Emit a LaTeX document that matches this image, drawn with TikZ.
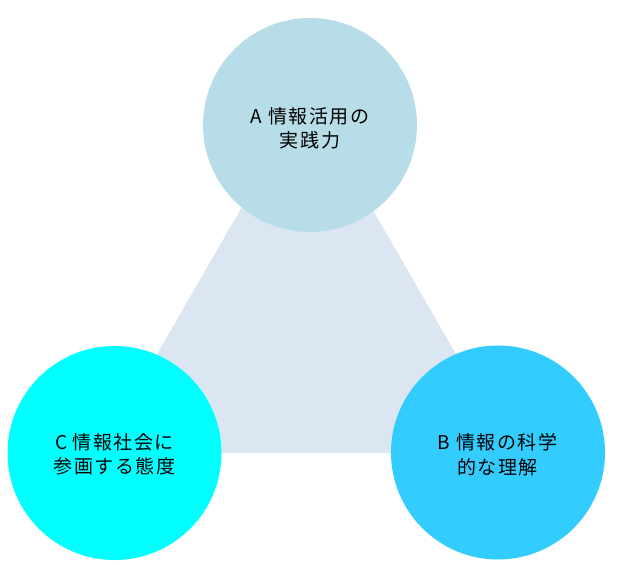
\documentclass[tikz,border=0pt]{standalone}
\usepackage{fontspec}
\newfontfamily\jp[LetterSpace=8]{Noto Sans CJK JP}
\definecolor{triC}{HTML}{DCE6F2}
\definecolor{topC}{HTML}{B7DDE8}
\definecolor{leftC}{HTML}{00FFFF}
\definecolor{rightC}{HTML}{33CCFF}
\tikzset{
  circ/.style={circle, minimum size=214pt, inner sep=0pt},
  lbl/.style={font=\jp\fontsize{19}{24.5}\selectfont, align=center, text=black, inner sep=0pt},
}
\begin{document}
\begin{tikzpicture}[x=1pt,y=-1pt]
\useasboundingbox (0,0) rectangle (620,564);
\fill[triC] (100,453) -- (306.5,95) -- (513,453) -- cycle;
\node[circ, fill=topC] (A) at (310,125) {};
\node[circ, fill=leftC] (C) at (114.5,453) {};
\node[circ, fill=rightC] (B) at (498,452.5) {};
\node[lbl] (tA) at (310,128.5) {A 情報活用の\\実践力};
\node[lbl] (tC) at (114.5,454.5) {C 情報社会に\\参画する態度};
\node[lbl] (tB) at (497.5,454.5) {B 情報の科学\\的な理解};
\end{tikzpicture}
\end{document}
